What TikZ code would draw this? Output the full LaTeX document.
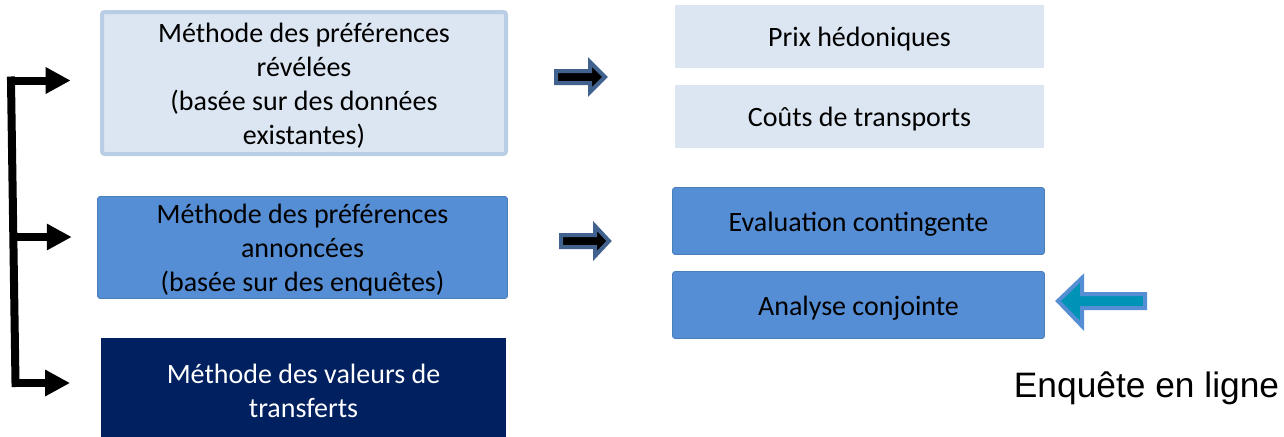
\documentclass[tikz,border=0pt]{standalone}
\usepackage{fontspec}
\setmainfont{Carlito}
\newfontfamily\arialfont{Liberation Sans}
\usetikzlibrary{arrows.meta}
\usetikzlibrary{positioning}
\definecolor{paleblue}{HTML}{DCE6F2}
\definecolor{paleborder}{HTML}{B9CDE5}
\definecolor{midblue}{HTML}{558ED5}
\definecolor{midborder}{HTML}{4A7EBB}
\definecolor{navyblue}{HTML}{002060}
\definecolor{arrowblue}{HTML}{41628F}
\definecolor{tealfill}{HTML}{0093B8}
% lines of a box, lowered a little as in the slide
\newcommand{\boxtext}[1]{\raisebox{-7.6pt}[0pt][0pt]{\begin{tabular}{@{}c@{}}#1\end{tabular}}}
\tikzstyle{methodbox}=[rectangle,inner sep=0pt,font=\fontsize{21}{25.5}\selectfont]
\tikzstyle{revealbox}=[methodbox,fill=paleblue,draw=paleborder,line width=3pt,rounded corners=2pt,minimum width=303pt,minimum height=106.5pt]
\tikzstyle{statedbox}=[methodbox,fill=midblue,draw=midborder,line width=0.6pt,rounded corners=2pt,minimum width=307.5pt,minimum height=76.5pt]
\tikzstyle{transferbox}=[methodbox,fill=navyblue,text=white,minimum width=303.75pt,minimum height=78pt]
\tikzstyle{palebox}=[methodbox,fill=paleblue,minimum width=276.75pt,minimum height=47.25pt]
\tikzstyle{bluebox}=[methodbox,fill=midblue,draw=midborder,line width=0.6pt,rounded corners=2pt,minimum width=279pt,minimum height=50.25pt]
\tikzstyle{bracket} = [draw,line width=6pt,line cap=rect]
\tikzstyle{bracketarrow} = [draw,line width=6pt,-{Triangle[length=18.75pt,width=18.75pt]}]
\tikzstyle{blockarrow} = [draw=arrowblue,fill=black,line width=3pt,line join=miter]

\begin{document}
\begin{tikzpicture}[x=0.75pt,y=-0.75pt]
    \useasboundingbox (0,0) rectangle (1284,436);

    % the three families of methods
    \node[revealbox] (reveal) at (304,83) {\boxtext{Méthode des préférences\\révélées\\(basée sur des données\\existantes)}};
    \node[statedbox] (stated) at (302.5,247.5) {\boxtext{Méthode des préférences\\annoncées\\(basée sur des enquêtes)}};
    \node[transferbox] (transfer) at (303.5,390) {\boxtext{Méthode des valeurs de\\transferts}};

    % the techniques on the right
    \foreach \pos/\name/\label in {{(859.5,36.5)/hedonic/Prix hédoniques}, {(859.5,116)/travel/Coûts de transports}}
        \node[palebox] (\name) at \pos {\boxtext{\label}};
    \foreach \pos/\name/\label in {{(858.5,221)/contingent/Evaluation contingente}, {(858.5,305)/conjoint/Analyse conjointe}}
        \node[bluebox] (\name) at \pos {\boxtext{\label}};

    \node[anchor=base,font=\arialfont\fontsize{26.5}{30}\selectfont] (online) at (1146.5,397) {Enquête en ligne};

    % bracket on the left
    \coordinate (btop) at (11,80.5);
    \coordinate (bmid) at (13.3,237);
    \coordinate (bbot) at (15.5,383);
    \path[bracket] (btop) -- (bbot);
    \foreach \c/\b/\s in {btop/reveal/22, bmid/stated/19, bbot/transfer/23}
        \path[bracketarrow,shorten >=\s pt] (\c) -- (\c -| \b.west);

    % block arrows
    \foreach \tail/\neck/\tip/\y in {556/590/605/77, 561/595/609/241}
        \path[blockarrow] (\tail,\y-6) -- (\neck,\y-6) -- (\neck,\y-15) -- (\tip,\y) -- (\neck,\y+15) -- (\neck,\y+6) -- (\tail,\y+6) -- cycle;
    \path[draw=midblue,fill=tealfill,line width=3pt,line join=miter] (1145,294) -- (1082,294) -- (1082,278) -- (1058,301) -- (1082,326) -- (1082,308) -- (1145,308) -- cycle;

\end{tikzpicture}
\end{document}
